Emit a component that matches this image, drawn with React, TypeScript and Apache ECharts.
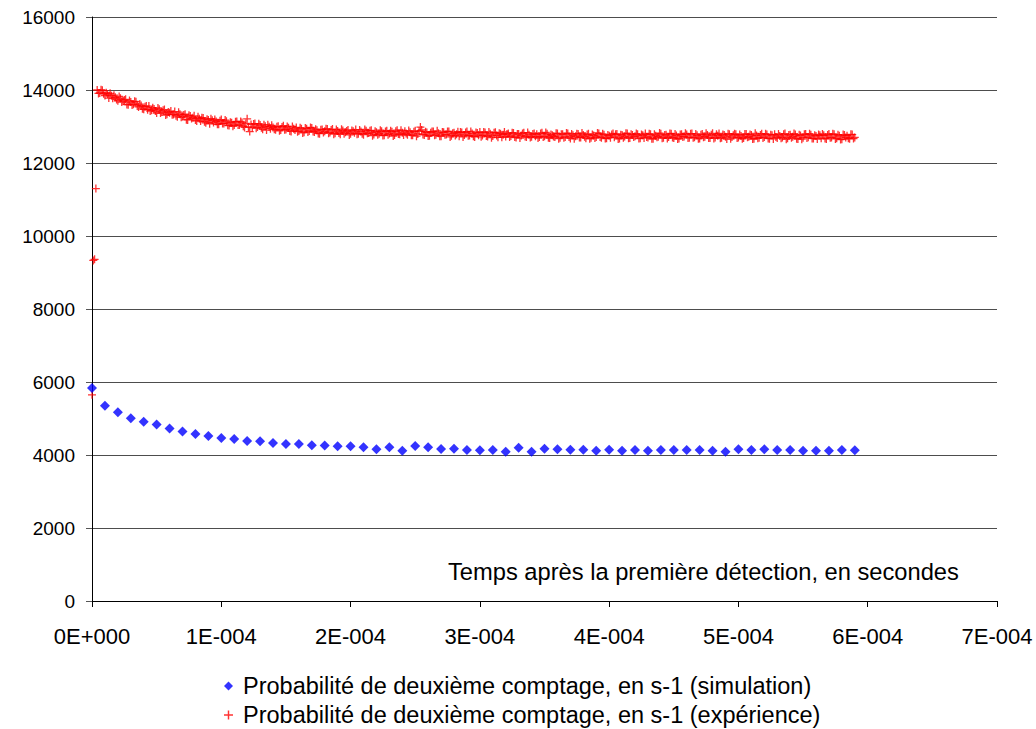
import React, { useEffect, useRef } from "react";
import * as echarts from "echarts";

// ---- data ----
const xTickLabels = ["0E+000", "1E-004", "2E-004", "3E-004", "4E-004", "5E-004", "6E-004", "7E-004"];
const yTickValues = [0, 2000, 4000, 6000, 8000, 10000, 12000, 14000, 16000];

const simStepSeconds = 1e-5;
const simValues = [
  5835, 5349, 5174, 5009, 4908, 4835, 4725, 4642, 4578, 4523,
  4468, 4440, 4385, 4376, 4330, 4303, 4303, 4266, 4257, 4239,
  4239, 4211, 4158, 4210, 4119, 4247, 4210, 4164, 4173, 4137,
  4128, 4137, 4091, 4201, 4091, 4173, 4155, 4146, 4146, 4119,
  4146, 4119, 4137, 4119, 4140, 4137, 4137, 4137, 4119, 4091,
  4155, 4137, 4155, 4137, 4137, 4119, 4119, 4119, 4137, 4128,
];

// experiment: first microseconds
const expEarlyTimesUs = [0, 1, 2, 3];
const expEarlyValues = [5650, 9330, 9360, 11300];

// experiment: even microseconds 4, 6, 8 ... 590
const expEvenStartUs = 4;
const expEvenValues = [
  14000, 13920, 13990, 13850, 13890, 13910, 13775, 13800, 13705, 13775,
  13695, 13745, 13595, 13670, 13610, 13675, 13535, 13575, 13470, 13560,
  13560, 13445, 13480, 13370, 13475, 13400, 13465, 13335, 13375, 13325,
  13410, 13265, 13335, 13275, 13335, 13180, 13285, 13240, 13175, 13265,
  13150, 13230, 13100, 13180, 13215, 13110, 13140, 13065, 13190, 13085,
  13145, 13025, 13100, 13040, 13140, 13040, 13110, 12975, 13210, 12860,
  12975, 13080, 12985, 13040, 12925, 13005, 13045, 12940, 12975, 12910,
  13005, 12905, 13020, 12920, 12965, 12865, 12935, 12975, 12875, 12935,
  12845, 12940, 12880, 12960, 12850, 12900, 12803, 12920, 12867, 12930,
  12838, 12930, 12812, 12875, 12788, 12890, 12842, 12905, 12803, 12872,
  12915, 12803, 12862, 12775, 12883, 12822, 12895, 12779, 12842, 12801,
  12870, 12759, 12883, 12807, 12856, 12765, 12899, 12788, 12827, 12871,
  12775, 12844, 12758, 12882, 12796, 12985, 12784, 12858, 12737, 12831,
  12865, 12773, 12816, 12734, 12842, 12780, 12864, 12748, 12827, 12791,
  12735, 12839, 12768, 12862, 12751, 12805, 12714, 12823, 12847, 12756,
  12834, 12727, 12800, 12743, 12841, 12704, 12802, 12775, 12723, 12806,
  12740, 12824, 12698, 12797, 12751, 12830, 12709, 12773, 12717, 12811,
  12785, 12709, 12828, 12732, 12801, 12685, 12759, 12713, 12807, 12691,
  12790, 12715, 12809, 12674, 12763, 12733, 12797, 12702, 12766, 12681,
  12800, 12690, 12755, 12715, 12810, 12695, 12775, 12675, 12745, 12780,
  12705, 12795, 12670, 12765, 12725, 12805, 12685, 12770, 12735, 12790,
  12680, 12760, 12810, 12700, 12785, 12665, 12750, 12720, 12800, 12690,
  12773, 12713, 12803, 12683, 12753, 12668, 12788, 12728, 12778, 12693,
  12807, 12707, 12757, 12672, 12792, 12722, 12767, 12687, 12812, 12697,
  12746, 12676, 12781, 12716, 12801, 12661, 12761, 12786, 12701, 12741,
  12684, 12794, 12719, 12769, 12664, 12754, 12694, 12804, 12709, 12779,
  12666, 12761, 12786, 12686, 12741, 12701, 12806, 12676, 12771, 12721,
  12778, 12658, 12753, 12693, 12793, 12708, 12773, 12668, 12743, 12783,
  12680, 12760, 12660, 12795, 12700, 12785, 12675, 12745, 12650, 12765,
  12750, 12665, 12780, 12700,
];

// experiment: odd microseconds 5, 7, 9 ... 589
const expOddStartUs = 5;
const expOddValues = [
  13905, 14005, 13895, 13925, 13780, 13843, 13857, 13743, 13822, 13668,
  13728, 13605, 13710, 13590, 13690, 13565, 13615, 13485, 13540, 13460,
  13425, 13515, 13422, 13507, 13367, 13442, 13312, 13397, 13422, 13332,
  13297, 13392, 13252, 13317, 13187, 13307, 13222, 13292, 13152, 13212,
  13240, 13130, 13200, 13075, 13170, 13195, 13060, 13157, 13082, 13175,
  13035, 13118, 13007, 13130, 13040, 13138, 13007, 13083, 12987, 13057,
  13070, 12950, 13075, 12968, 13045, 12903, 12993, 13032, 12925, 12993,
  12882, 12988, 12908, 13003, 12878, 13003, 12903, 12858, 12963, 12823,
  12962, 12848, 12973, 12863, 12928, 12809, 12911, 12834, 12936, 12814,
  12906, 12789, 12916, 12824, 12926, 12803, 12876, 12769, 12893, 12826,
  12789, 12907, 12801, 12919, 12812, 12886, 12749, 12868, 12771, 12900,
  12754, 12863, 12777, 12886, 12740, 12869, 12793, 12897, 12766, 12805,
  12889, 12763, 12857, 12736, 12870, 12904, 12768, 12837, 12746, 12860,
  12759, 12882, 12735, 12848, 12771, 12865, 12714, 12818, 12752, 12856,
  12850, 12714, 12833, 12747, 12866, 12730, 12839, 12763, 12717, 12850,
  12743, 12851, 12694, 12832, 12755, 12818, 12706, 12849, 12792, 12711,
  12830, 12709, 12793, 12682, 12811, 12725, 12834, 12698, 12797, 12731,
  12685, 12809, 12713, 12837, 12691, 12780, 12724, 12818, 12667, 12791,
  12690, 12820, 12709, 12794, 12663, 12803, 12697, 12822, 12721, 12781,
  12665, 12780, 12685, 12825, 12710, 12800, 12670, 12765, 12695, 12810,
  12790, 12660, 12775, 12695, 12815, 12680, 12785, 12715, 12805, 12670,
  12779, 12684, 12714, 12799, 12664, 12789, 12704, 12819, 12679, 12769,
  12673, 12808, 12698, 12793, 12658, 12783, 12713, 12813, 12688, 12798,
  12692, 12797, 12662, 12777, 12707, 12817, 12682, 12772, 12672, 12787,
  12810, 12695, 12765, 12655, 12790, 12710, 12800, 12685, 12780, 12665,
  12793, 12703, 12778, 12658, 12813, 12678, 12768, 12688, 12803, 12673,
  12775, 12660, 12710, 12795, 12680, 12785, 12650, 12770, 12695, 12805,
  12667, 12772, 12652, 12787, 12687, 12802, 12672, 12762, 12657, 12757,
  12794, 12669, 12769, 12689, 12799, 12659, 12774, 12644, 12779, 12699,
  12680, 12785, 12670,
];
const expStepUs = 2;

const simName = "Probabilité de deuxième comptage, en s-1 (simulation)";
const expName = "Probabilité de deuxième comptage, en s-1 (expérience)";
const axisTitle = "Temps après la première détection, en secondes";

const FONT = "'Liberation Sans', Arial, sans-serif";
const PLUS = "path://M3.35,0h1.3v3.35h3.35v1.3h-3.35v3.35h-1.3v-3.35h-3.35v-1.3h3.35z";

export default function App() {
  const ref = useRef<HTMLDivElement>(null);
  useEffect(() => {
    if (!ref.current) return;
    const chart = echarts.init(ref.current, null, { renderer: "svg" });

    const simData = simValues.map((v, i) => [i * simStepSeconds, v]);
    const expData = [
      ...expEarlyTimesUs.map((t, i) => [t * 1e-6, expEarlyValues[i]]),
      ...expEvenValues.map((v, i) => [(expEvenStartUs + i * expStepUs) * 1e-6, v]),
      ...expOddValues.map((v, i) => [(expOddStartUs + i * expStepUs) * 1e-6, v]),
    ];

    const legendBase = {
      orient: "vertical",
      left: 224,
      padding: 0,
      itemWidth: 9,
      itemHeight: 9,
      textStyle: { color: "#000", fontSize: 23.5, fontFamily: FONT, padding: [0, 0, 0, 5] },
    };

    chart.setOption({
      animation: false,
      backgroundColor: "#ffffff",
      textStyle: { fontFamily: FONT },
      grid: { left: 92, right: 39, top: 17, bottom: 128, containLabel: false },
      xAxis: {
        type: "value",
        min: 0,
        max: 7e-4,
        interval: 1e-4,
        axisLine: { show: true, lineStyle: { color: "#000", width: 1 } },
        axisTick: { show: true, length: 6, lineStyle: { color: "#000" } },
        splitLine: { show: false },
        axisLabel: {
          color: "#000",
          fontSize: 22,
          fontFamily: FONT,
          margin: 24,
          formatter: (v: number) => xTickLabels[Math.round(v / 1e-4)] ?? "",
        },
      },
      yAxis: {
        type: "value",
        min: yTickValues[0],
        max: yTickValues[yTickValues.length - 1],
        interval: 2000,
        axisLine: { show: true, lineStyle: { color: "#000", width: 1 } },
        axisTick: { show: true, length: 6, lineStyle: { color: "#555" } },
        splitLine: { show: true, lineStyle: { color: "#4d4d4d", width: 1 } },
        axisLabel: {
          color: "#000",
          fontSize: 19,
          fontFamily: FONT,
          margin: 17,
          formatter: (v: number) => String(v),
        },
      },
      legend: [
        { ...legendBase, top: 674, data: [{ name: simName }] },
        { ...legendBase, top: 703, data: [{ name: expName }] },
      ],
      graphic: [
        {
          type: "text",
          left: 448,
          top: 560,
          style: { text: axisTitle, fill: "#000", font: `23.7px ${FONT}` },
        },
      ],
      series: [
        {
          name: expName,
          type: "scatter",
          symbol: PLUS,
          symbolSize: 8,
          itemStyle: { color: "#ff0000" },
          data: expData,
          z: 2,
        },
        {
          name: simName,
          type: "scatter",
          symbol: "diamond",
          symbolSize: 10,
          itemStyle: { color: "#0000ff" },
          data: simData,
          z: 3,
        },
      ],
    });
    return () => chart.dispose();
  }, []);
  return <div ref={ref} style={{ position: "fixed", left: 0, top: 0, width: 1036, height: 729 }} />;
}
